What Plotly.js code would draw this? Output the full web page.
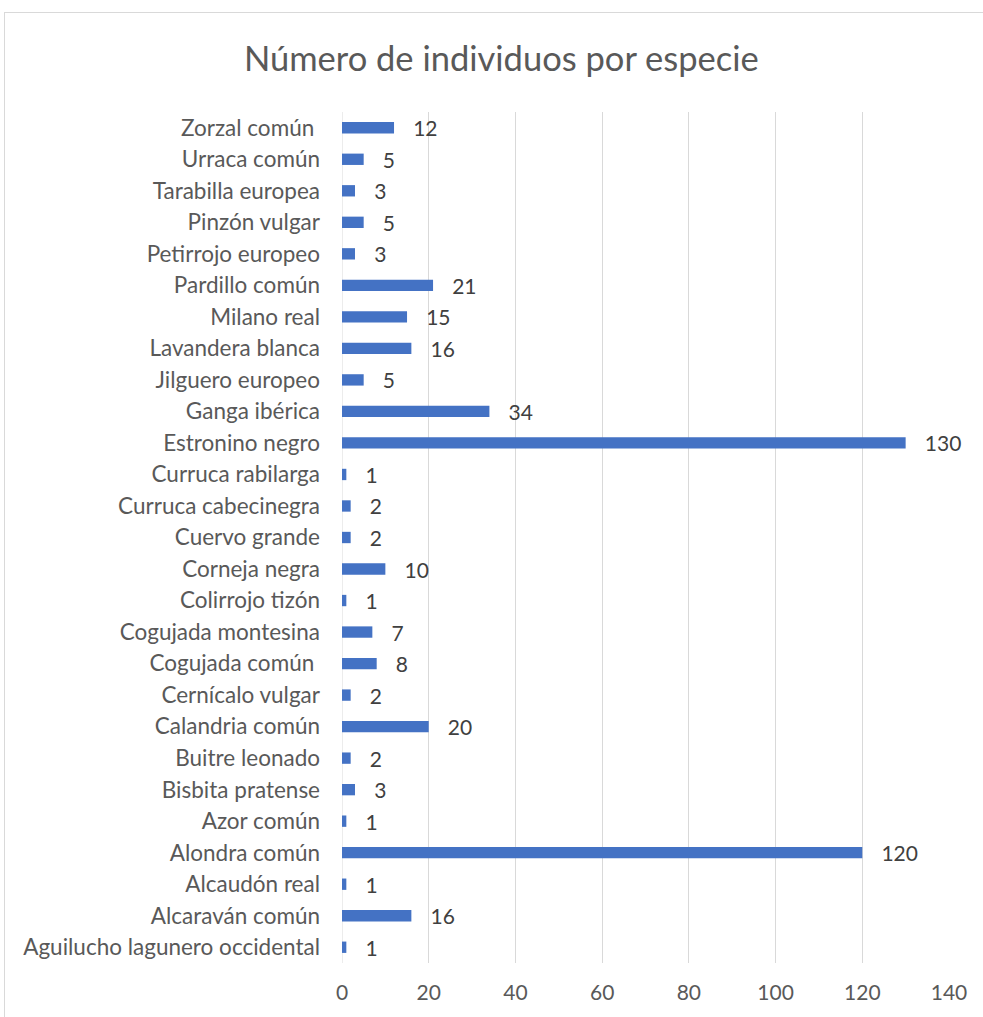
<!DOCTYPE html>
<html>
<head>
<meta charset="utf-8">
<script src="https://cdn.plot.ly/plotly-3.0.1.min.js"></script>
<style>
html,body{margin:0;padding:0;background:#fff;}
#chart{width:983px;height:1017px;position:absolute;left:0;top:0;}
#frame{position:absolute;left:4px;top:12px;width:1000px;height:1020px;border:1px solid #d9d9d9;pointer-events:none;}
</style>
</head>
<body>
<div id="chart"></div>
<div id="frame"></div>
<script>
const species = [
  "Aguilucho lagunero occidental","Alcaraván común","Alcaudón real","Alondra común",
  "Azor común","Bisbita pratense","Buitre leonado","Calandria común","Cernícalo vulgar",
  "Cogujada común ","Cogujada montesina","Colirrojo tizón","Corneja negra","Cuervo grande",
  "Curruca cabecinegra","Curruca rabilarga","Estronino negro","Ganga ibérica",
  "Jilguero europeo","Lavandera blanca","Milano real","Pardillo común","Petirrojo europeo",
  "Pinzón vulgar","Tarabilla europea","Urraca común","Zorzal común "
];
const individuos = [1,16,1,120,1,3,2,20,2,8,7,1,10,2,2,1,130,34,5,16,15,21,3,5,3,5,12];
const xTicks = [0,20,40,60,80,100,120,140];

const fontFam = "Lato, 'Open Sans', sans-serif";
const trace = {
  type: "bar",
  orientation: "h",
  x: individuos,
  y: species,
  marker: {color: "#4472C4"},
  text: individuos.map(v => "\u00a0\u00a0\u00a0" + v),
  textposition: "outside",
  constraintext: "none",
  cliponaxis: false,
  textfont: {family: fontFam, size: 21, color: "#404040"},
  hoverinfo: "x+y"
};
const layout = {
  width: 983, height: 1017,
  margin: {l: 342, r: 34, t: 112, b: 54},
  paper_bgcolor: "#fff", plot_bgcolor: "#fff",
  title: {text: "Número de individuos por especie", x: 0.51, xanchor: "center", y: 0.942, yanchor: "middle",
          font: {family: fontFam, size: 34.5, color: "#595959"}},
  bargap: 0.64,
  showlegend: false,
  xaxis: {range: [0, 140], tickvals: xTicks, ticktext: xTicks.map(String),
          showgrid: true, gridcolor: "#d9d9d9", gridwidth: 1, zeroline: false,
          showline: false, ticks: "", ticklabelstandoff: 15,
          tickfont: {family: fontFam, size: 21, color: "#595959"}, fixedrange: true},
  yaxis: {type: "category", categoryorder: "array", categoryarray: species,
          range: [-0.5, species.length - 0.5], showgrid: false, zeroline: false,
          showline: false, ticks: "", ticklabelstandoff: 21,
          tickfont: {family: fontFam, size: 22.5, color: "#595959"}, fixedrange: true},
  shapes: [{type: "line", xref: "x", yref: "paper", x0: 0, x1: 0, y0: 0, y1: 1,
            line: {color: "#d9d9d9", width: 1}, layer: "below"}]
};
Plotly.newPlot("chart", [trace], layout, {displayModeBar: false, staticPlot: true});
</script>
</body>
</html>
